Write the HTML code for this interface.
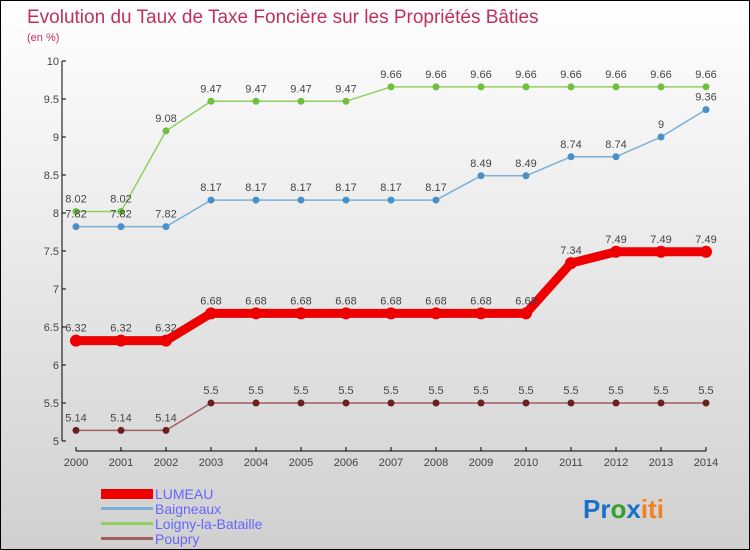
<!DOCTYPE html>
<html><head><meta charset="utf-8"><style>
body{margin:0}
#c{position:relative;width:748px;height:548px;border:1px solid #000;background:linear-gradient(#fff,#d0d0d0);font-family:"Liberation Sans",sans-serif;overflow:hidden}
</style></head><body>
<div id="c">
<svg id="s" width="748" height="548" style="position:absolute;left:0;top:0">
<text x="26" y="22" font-size="19" fill="#c0305a">Evolution du Taux de Taxe Foncière sur les Propriétés Bâties</text>
<text x="26" y="40" font-size="11" fill="#c0305a">(en %)</text>
<g id="axes"></g><g id="series"></g>
<g>
<rect x="100" y="488" width="52" height="10" fill="#e00"/>
<text x="154" y="498" font-size="14" fill="#6666ff">LUMEAU</text>
<rect x="100" y="506" width="52" height="3" fill="#7ab0d8"/>
<text x="154" y="513" font-size="14" fill="#6666ff">Baigneaux</text>
<rect x="100" y="521" width="52" height="3" fill="#90d060"/>
<text x="154" y="528" font-size="14" fill="#6666ff">Loigny-la-Bataille</text>
<rect x="100" y="536" width="52" height="3" fill="#a06060"/>
<text x="154" y="543" font-size="14" fill="#6666ff">Poupry</text>
</g>
<text x="582" y="517" font-size="26" font-weight="bold"><tspan fill="#1a70c8">Pr</tspan><tspan fill="#30a030">o</tspan><tspan fill="#1a70c8">x</tspan><tspan fill="#f08020">iti</tspan></text>
</svg></div>
<script>
const years=[2000,2001,2002,2003,2004,2005,2006,2007,2008,2009,2010,2011,2012,2013,2014];
const lumeau=[6.32,6.32,6.32,6.68,6.68,6.68,6.68,6.68,6.68,6.68,6.68,7.34,7.49,7.49,7.49];
const baigneaux=[7.82,7.82,7.82,8.17,8.17,8.17,8.17,8.17,8.17,8.49,8.49,8.74,8.74,9,9.36];
const loigny=[8.02,8.02,9.08,9.47,9.47,9.47,9.47,9.66,9.66,9.66,9.66,9.66,9.66,9.66,9.66];
const poupry=[5.14,5.14,5.14,5.5,5.5,5.5,5.5,5.5,5.5,5.5,5.5,5.5,5.5,5.5,5.5];
const yTicks=[5,5.5,6,6.5,7,7.5,8,8.5,9,9.5,10];
const NS="http://www.w3.org/2000/svg";
const xs=i=>75+i*45, ys=v=>440-(v-5)*76;
function mk(t,a,p){const e=document.createElementNS(NS,t);for(const k in a)e.setAttribute(k,a[k]);p.appendChild(e);return e;}
const ax=document.getElementById('axes');
let l=mk('line',{x1:61,y1:60,x2:61,y2:440,stroke:'#000'},ax);


l=mk('line',{x1:75,y1:450,x2:705,y2:450,stroke:'#000'},ax);


yTicks.forEach(v=>{
 mk('line',{x1:61,y1:ys(v),x2:65,y2:ys(v),stroke:'#000'},ax);
 const t=mk('text',{x:58,y:ys(v)+4,'text-anchor':'end','font-size':11,fill:'#444'},ax);t.textContent=String(v);
 
 
});
years.forEach((y,i)=>{
 mk('line',{x1:xs(i),y1:446,x2:xs(i),y2:450,stroke:'#000'},ax);
 const t=mk('text',{x:xs(i),y:465,'text-anchor':'middle','font-size':11,fill:'#444'},ax);t.textContent=y;
 
 
});
const sg=document.getElementById('series');
function draw(d,name,col,dot,w,r){
 const g=mk('g',{},sg);
 
 
 mk('polyline',{points:d.map((v,i)=>xs(i)+','+ys(v)).join(' '),fill:'none',stroke:col,'stroke-width':w},g);
 d.forEach((v,i)=>{
  const c=mk('circle',{cx:xs(i),cy:ys(v),r:r,fill:dot},g);
  
  
  const t=mk('text',{x:xs(i),y:ys(v)-9,'text-anchor':'middle','font-size':11,fill:'#444'},g);t.textContent=String(v);
  
  
 });
}
draw(poupry,'poupry','#a06060','#6a2020',1.5,3.5);
draw(loigny,'loigny','#90d060','#70c040',1.5,3.5);
draw(baigneaux,'baigneaux','#7ab0d8','#4a90c8',1.5,3.5);
draw(lumeau,'lumeau','#e00','#e00',9,6);
</script>
</body></html>
